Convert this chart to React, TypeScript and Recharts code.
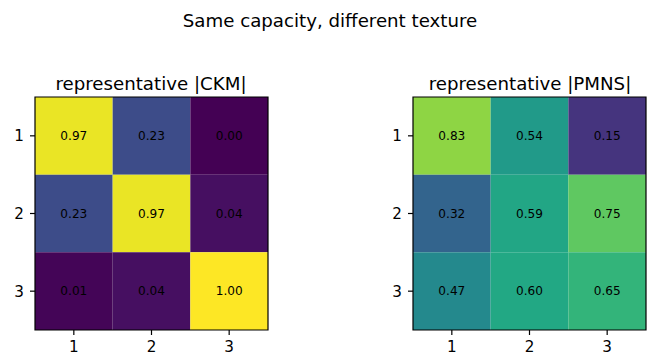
import React from 'react';
import { ComposedChart, XAxis, YAxis, ReferenceArea, Scatter } from 'recharts';

const suptitle = 'Same capacity, different texture';
const ckmTitle = 'representative |CKM|';
const pmnsTitle = 'representative |PMNS|';
const rowLabels = [1, 2, 3];
const colLabels = [1, 2, 3];
const ckmValues = [
  [0.97, 0.23, 0.0],
  [0.23, 0.97, 0.04],
  [0.01, 0.04, 1.0],
];
const pmnsValues = [
  [0.83, 0.54, 0.15],
  [0.32, 0.59, 0.75],
  [0.47, 0.6, 0.65],
];

const VIRIDIS = [
  '#440154', '#482475', '#414487', '#355f8d', '#2a788e', '#21918c',
  '#22a884', '#44bf70', '#7ad151', '#bddf26', '#fde725',
];
function hexToRgb(h: string) {
  return [parseInt(h.slice(1, 3), 16), parseInt(h.slice(3, 5), 16), parseInt(h.slice(5, 7), 16)];
}
function viridis(v: number) {
  const t = Math.max(0, Math.min(1, v)) * 10;
  const i = Math.min(9, Math.floor(t));
  const f = t - i;
  const a = hexToRgb(VIRIDIS[i]);
  const b = hexToRgb(VIRIDIS[i + 1]);
  const c = a.map((x, k) => Math.round(x + (b[k] - x) * f));
  return `rgb(${c[0]},${c[1]},${c[2]})`;
}

const FONT = 'DejaVu Sans';

function Heatmap({ values, width, marginLeft, marginRight }: { values: number[][]; width: number; marginLeft: number; marginRight: number }) {
  const cells: { x: number; y: number; v: number }[] = [];
  rowLabels.forEach((r, ri) => colLabels.forEach((c, ci) => cells.push({ x: c, y: r, v: values[ri][ci] })));
  return (
    <ComposedChart
      width={width}
      height={364}
      data={cells}
      style={{ overflow: 'visible' }}
      margin={{ top: 97, right: marginRight, bottom: 10, left: marginLeft }}
    >
      <XAxis
        type="number"
        dataKey="x"
        domain={[0.5, 3.5]}
        ticks={colLabels}
        allowDataOverflow
        height={24}
        axisLine={false}
        tickSize={5}
        tickMargin={6}
        tickLine={{ stroke: '#000', strokeWidth: 1.2 }}
        tick={{ fill: '#000', fontSize: 15.2, fontFamily: FONT }}
      />
      <YAxis
        type="number"
        dataKey="y"
        domain={[0.5, 3.5]}
        ticks={rowLabels}
        reversed
        allowDataOverflow
        width={35}
        axisLine={false}
        tickSize={5}
        tickMargin={6}
        tickLine={{ stroke: '#000', strokeWidth: 1.2 }}
        tick={{ fill: '#000', fontSize: 15.2, fontFamily: FONT }}
      />
      {cells.map((c, i) => (
        <ReferenceArea
          key={i}
          x1={c.x - 0.5}
          x2={c.x + 0.5}
          y1={c.y - 0.5}
          y2={c.y + 0.5}
          fill={viridis(c.v)}
          fillOpacity={1}
          stroke="none"
          label={{ value: c.v.toFixed(2), position: 'center', fill: '#000', fontSize: 12.1, fontFamily: FONT }}
        />
      ))}
      <ReferenceArea x1={0.5} x2={3.5} y1={0.5} y2={3.5} fill="none" fillOpacity={0} stroke="#000" strokeWidth={1.2} />
      <Scatter data={cells} dataKey="y" isAnimationActive={false} shape={() => null} />
    </ComposedChart>
  );
}

export default function App() {
  return (
    <div style={{ position: 'absolute', left: 0, top: 0, width: 654, height: 354, background: '#fff', overflow: 'hidden' }}>
      <div style={{ position: 'absolute', left: 0, top: 0 }}>
        <Heatmap values={ckmValues} width={300} marginLeft={0} marginRight={32} />
      </div>
      <div style={{ position: 'absolute', left: 327, top: 0 }}>
        <Heatmap values={pmnsValues} width={327} marginLeft={51} marginRight={8} />
      </div>
      <svg width={654} height={354} style={{ position: 'absolute', left: 0, top: 0, pointerEvents: 'none' }}>
        <text x={330} y={27} textAnchor="middle" fontSize={18.2} fontFamily={FONT} fill="#000">{suptitle}</text>
        <text x={151} y={90} textAnchor="middle" fontSize={18.2} fontFamily={FONT} fill="#000">{ckmTitle}</text>
        <text x={530} y={90} textAnchor="middle" fontSize={18.2} fontFamily={FONT} fill="#000">{pmnsTitle}</text>
      </svg>
    </div>
  );
}
